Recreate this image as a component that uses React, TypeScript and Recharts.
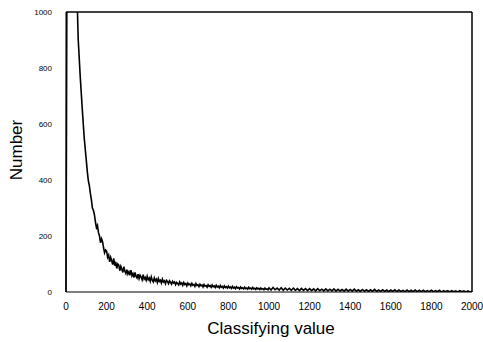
import React from 'react';
import { LineChart, Line, XAxis, YAxis, ReferenceLine } from 'recharts';

// counts, in three runs of bins:
// 0–90 (step 10), 100–995 (step 5, where the noise is dense), 1000–2000 (step 10)
const headCounts = [0, 2500, 2600, 2300, 1700, 1180, 905, 770, 655, 548];

const midCounts = [
  470, 430, 398, 380, 352, 330, 300, 292, 276, 250, 230, 238, 212, 200, 176, 190, 180, 158, 140, 150,
  146, 124, 132, 108, 124, 112, 98, 120, 94, 108, 84, 100, 96, 76, 92, 82, 70, 90, 74, 66,
  80, 64, 72, 60, 78, 58, 66, 52, 70, 56, 50, 64, 48, 60, 54, 44, 62, 46, 52, 42,
  56, 44, 50, 38, 54, 42, 36, 50, 40, 46, 34, 48, 38, 42, 32, 46, 36, 40, 30, 42,
  38, 30, 40, 34, 28, 38, 32, 36, 26, 34, 30, 25, 36, 28, 32, 24, 34, 27, 30, 22,
  32, 26, 29, 22, 31, 24, 27, 20, 30, 23, 26, 19, 28, 22, 25, 18, 27, 21, 23, 17,
  26, 20, 23, 17, 25, 19, 22, 16, 24, 18, 21, 15, 23, 17, 20, 14, 22, 16, 19, 14,
  21, 15, 18, 13, 20, 14, 17, 12, 19, 14, 16, 11, 18, 13, 15, 11, 17, 12, 14, 10,
  17, 12, 14, 10, 16, 11, 13, 9, 15, 11, 13, 9, 14, 10, 12, 8, 14, 10, 11, 8,
];

const tailCounts = [
  15, 7, 16, 8, 14, 7, 15, 6, 14, 7,
  13, 6, 14, 6, 12, 5, 13, 6, 12, 5,
  12, 5, 11, 4, 12, 5, 10, 4, 11, 4,
  10, 4, 11, 3, 10, 4, 9, 3, 10, 3,
  9, 3, 10, 3, 8, 2, 9, 3, 8, 2,
  8, 2, 9, 2, 7, 2, 8, 2, 7, 1,
  7, 2, 8, 1, 7, 2, 6, 1, 7, 1,
  6, 1, 7, 1, 6, 1, 6, 1, 5, 1,
  6, 1, 5, 1, 6, 0, 5, 1, 5, 0,
  5, 1, 4, 0, 5, 1, 4, 0, 4, 0,
  3,
];

const xTicks = [0, 200, 400, 600, 800, 1000, 1200, 1400, 1600, 1800, 2000];
const yTicks = [0, 200, 400, 600, 800, 1000];

const data = [
  ...headCounts.map((n, i) => ({ x: i * 10, n })),
  ...midCounts.map((n, i) => ({ x: 100 + i * 5, n })),
  ...tailCounts.map((n, i) => ({ x: 1000 + i * 10, n })),
];

const font = 'Arial, "Liberation Sans", sans-serif';

const YTitle = () => (
  <text
    x={16}
    y={150}
    transform="rotate(-90 16 150)"
    textAnchor="middle"
    dominantBaseline="central"
    fontFamily={font}
    fontSize={17}
    fill="#000"
  >
    Number
  </text>
);

const XTitle = () => (
  <text x={271} y={334} textAnchor="middle" fontFamily={font} fontSize={17} fill="#000">
    Classifying value
  </text>
);

const App: React.FC = () => {
  return (
    <div style={{ position: 'absolute', left: 0, top: 0, background: '#fff' }}>
      <LineChart width={483} height={342} data={data} margin={{ top: 12, right: 11, left: 0, bottom: 0 }}>
        <XAxis
          dataKey="x"
          type="number"
          domain={[0, 2000]}
          ticks={xTicks}
          height={50}
          stroke="#000"
          tickLine={false}
          tickMargin={5}
          tick={{ fontFamily: font, fontSize: 10, fill: '#000' }}
          label={<XTitle />}
        />
        <YAxis
          type="number"
          domain={[0, 1000]}
          ticks={yTicks}
          allowDataOverflow
          width={66}
          stroke="#000"
          tickLine={false}
          tickMargin={8}
          tick={{ fontFamily: font, fontSize: 8, fill: '#000' }}
          label={<YTitle />}
        />
        <ReferenceLine y={1000} stroke="#000" strokeWidth={1.5} />
        <ReferenceLine x={2000} stroke="#000" strokeWidth={1.5} />
        <Line
          type="linear"
          dataKey="n"
          stroke="#000"
          strokeWidth={1.6}
          dot={false}
          isAnimationActive={false}
        />
      </LineChart>
    </div>
  );
};

export default App;
